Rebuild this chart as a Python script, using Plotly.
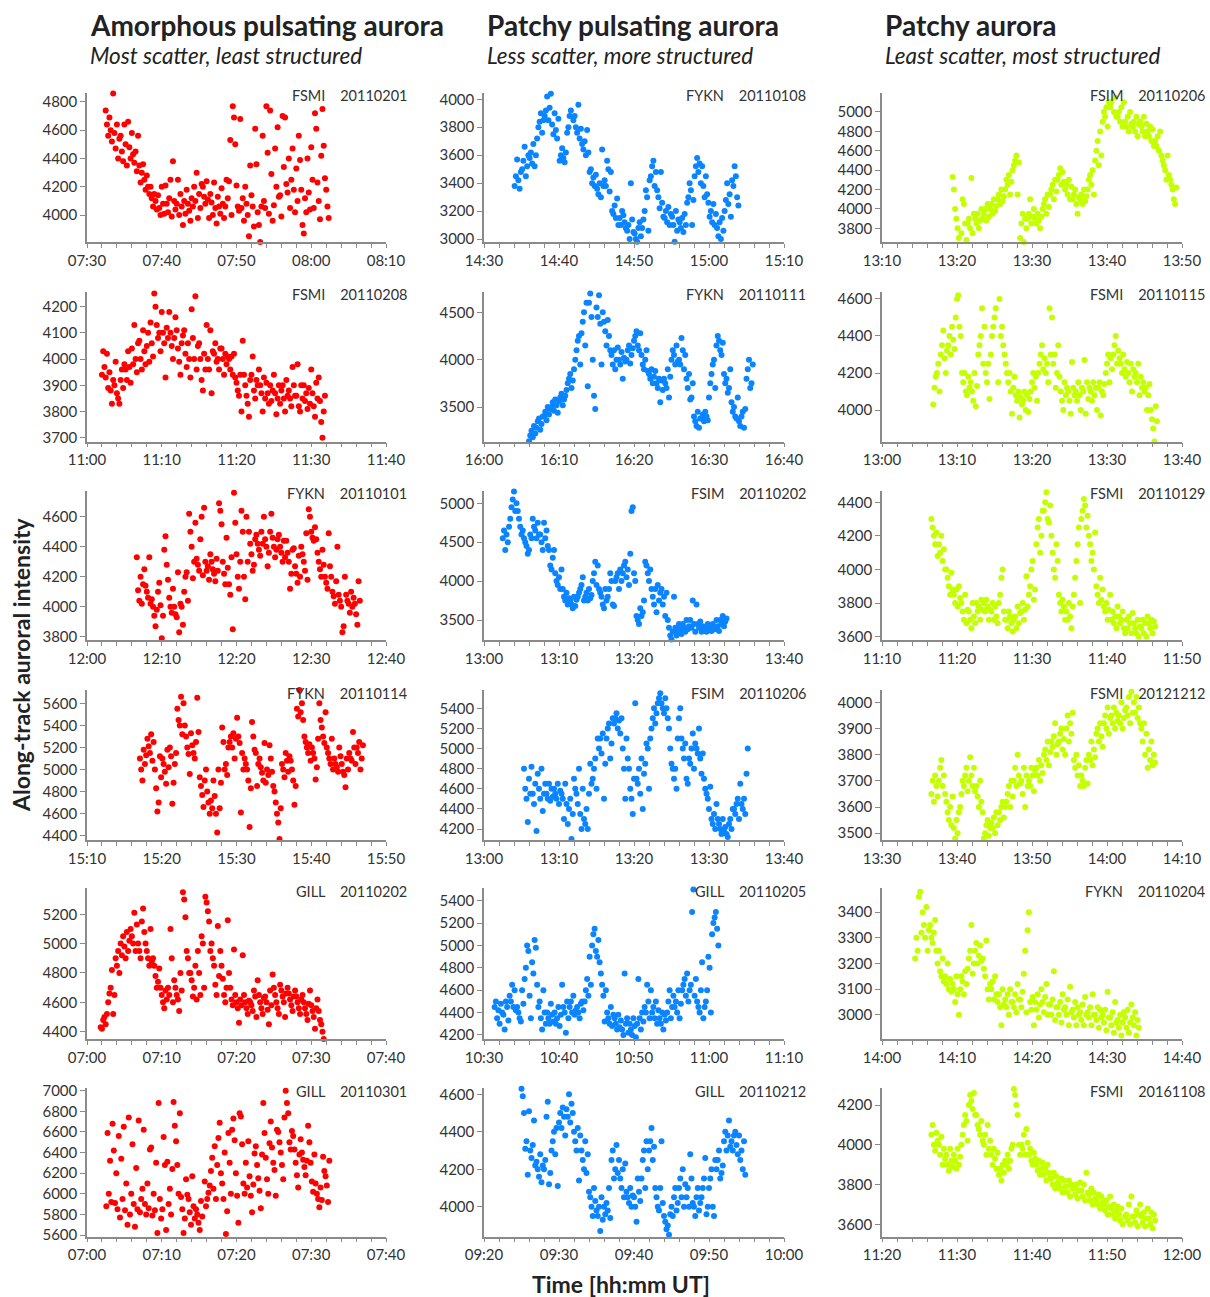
import plotly.graph_objects as go

# ---------------------------------------------------------------------------
# Along-track auroral intensity samples, 10 s cadence (6 samples per minute).
# Each row below is one minute of samples.
# ---------------------------------------------------------------------------

# Column 1: amorphous pulsating aurora
FSMI_20110201 = [
    4740, 4640, 4560, 4690, 4600, 4520,
    4860, 4580, 4470, 4640, 4400, 4540,
    4560, 4450, 4380, 4640, 4500, 4350,
    4660, 4480, 4400, 4580, 4430, 4370,
    4450, 4310, 4560, 4350, 4230, 4300,
    4360, 4250, 4180, 4280, 4200, 4150,
    4200, 4120, 4060, 4150, 4100, 4040,
    4140, 4050, 4000, 4200, 4080, 4010,
    4210, 4080, 4020, 4120, 4250, 3990,
    4380, 4100, 4040, 4080, 4250, 4000,
    4150, 4060, 3930, 4100, 4010, 4180,
    4080, 4030, 3960, 4120, 4060, 4200,
    4100, 4300, 3980, 4150, 4050, 4220,
    4200, 4130, 4080, 4240, 4110, 3980,
    4150, 4090, 4000, 4230, 4050, 3940,
    4130, 4060, 4010, 4190, 4080, 3980,
    4060, 4250, 4120, 4240, 4530, 4000,
    4770, 4690, 4500, 4210, 4060, 4030,
    4680, 4050, 4120, 3960, 4200, 4080,
    4000, 3850, 4350, 4140, 4060, 3920,
    4610, 4360, 4020, 3930, 3810, 4060,
    4560, 4100, 4050, 4770, 4440, 4010,
    4740, 4290, 3960, 4070, 4470, 4200,
    4620, 4130, 4140, 3990, 4700, 4340,
    4690, 4220, 4160, 4400, 4050, 4250,
    4470, 4180, 4020, 4330, 4100, 4560,
    4390, 4180, 3930, 3870, 4120, 4020,
    4400, 4160, 4040, 4480, 4250, 4050,
    4720, 4610, 4230, 4100, 3970, 4420,
    4750, 4490, 4260, 4180, 4060, 3980,
]

FSMI_20110208 = [
    3940, 4030, 3970, 3930, 4020, 3890,
    3950, 3880, 3830, 3920, 3900, 3990,
    3870, 3850, 3830, 3920, 3960, 3890,
    3980, 3960, 3920, 4030, 3970, 3910,
    4040, 3980, 4130, 4000, 3950, 4060,
    4070, 4000, 3960, 4110, 4030, 3980,
    4050, 4100, 3990, 4140, 4060, 4010,
    4250, 4200, 4130, 4080, 4100, 4030,
    4180, 4100, 4060, 3930, 4120, 4080,
    4180, 4100, 4050, 4000, 4080, 4160,
    4110, 4040, 3990, 3940, 4060, 4090,
    4110, 4020, 3970, 4060, 4000, 3930,
    4190, 4080, 4000, 4240, 3960, 4050,
    4060, 4000, 3920, 3880, 4020, 3960,
    4130, 4000, 3960, 4110, 3870, 4030,
    4020, 4060, 3990, 4000, 3960, 4040,
    4040, 4000, 3940, 4020, 3980, 4010,
    4000, 3960, 4010, 3940, 4020, 3930,
    3910, 3880, 3860, 3940, 3800, 4070,
    3940, 3900, 3860, 3830, 3780, 3920,
    3940, 4010, 3880, 3850, 3920, 3900,
    3960, 3900, 3870, 3800, 3930, 3850,
    3910, 3870, 3830, 3900, 3840, 3880,
    3940, 3870, 3790, 3850, 3900, 3830,
    3880, 3900, 3850, 3800, 3920, 3860,
    3880, 3850, 3820, 3970, 3900, 3860,
    3860, 3980, 3820, 3800, 3900, 3850,
    3900, 3840, 3870, 3810, 3890, 3830,
    3960, 3870, 3820, 3780, 3910, 3850,
    3930, 3840, 3760, 3700, 3800, 3860,
]

FYKN_20110101 = [
    4330, 4110, 4040, 4200, 4020, 4150,
    4250, 4140, 4100, 4060, 4330, 4020,
    4050, 4000, 3940, 3870, 3980, 4100,
    4160, 4010, 3790, 3940, 4380, 4470,
    4280, 4180, 4060, 4000, 3960, 4120,
    4000, 3950, 3930, 4230, 3830, 4020,
    4000, 3880, 4100, 4200, 4230, 4040,
    4620, 4500, 4400, 4190, 4300, 4560,
    4320, 4280, 4240, 4450, 4600, 4210,
    4660, 4300, 4240, 4270, 4180, 4350,
    4300, 4250, 4220, 4170, 4320, 4240,
    4690, 4640, 4550, 4300, 4220, 4150,
    4460, 4260, 4150, 4080, 4330, 3850,
    4760, 4560, 4350, 4200, 4120, 4300,
    4640, 4500, 4200, 4050, 4600, 4300,
    4500, 4420, 4350, 4240, 4280, 4450,
    4480, 4420, 4380, 4340, 4500, 4420,
    4600, 4450, 4400, 4270, 4360, 4500,
    4620, 4460, 4400, 4330, 4380, 4450,
    4480, 4400, 4360, 4300, 4440, 4330,
    4440, 4360, 4300, 4120, 4220, 4380,
    4390, 4270, 4220, 4160, 4340, 4200,
    4400, 4350, 4300, 4240, 4490, 4180,
    4650, 4600, 4500, 4460, 4440, 4530,
    4450, 4360, 4300, 4250, 4200, 4380,
    4280, 4200, 4160, 4120, 4490, 4270,
    4200, 4100, 4070, 4020, 4170, 4400,
    4080, 4040, 4000, 3830, 3870, 4200,
    4080, 4040, 4020, 3960, 4100, 4000,
    4060, 4020, 3950, 3880, 4170, 4040,
]

FYKN_20110114 = [
    5100, 5000, 4900, 5180, 5050, 5130,
    5280, 5210, 5150, 5320, 5080, 5250,
    5000, 4830, 4620, 4700, 5120, 4930,
    5100, 5050, 4980, 4870, 5180, 5020,
    5200, 5120, 4690, 4880, 5050, 5150,
    5550, 5450, 5400, 5660, 5320, 5600,
    5400, 5300, 5200, 5140, 4960, 5330,
    5220, 5150, 5100, 5250, 5650, 5340,
    4930, 4850, 4770, 4660, 4900, 5000,
    4800, 4700, 4600, 4720, 4650, 4900,
    4760, 4600, 4430, 5000, 4650, 4880,
    5380, 5250, 5000, 5050, 4950, 5200,
    5250, 5300, 5200, 5330, 5100, 5280,
    5470, 5300, 5240, 4610, 5150, 5000,
    5100, 5050, 5000, 4900, 4480, 4830,
    5430, 5300, 5180, 5150, 4850, 5050,
    5100, 5020, 4970, 4900, 5240, 4880,
    5000, 4950, 5220, 5100, 4980, 4850,
    4800, 4700, 4600, 4520, 4370, 4650,
    5050, 5000, 4930, 5150, 5080, 4980,
    5120, 5080, 5000, 4900, 4680, 4850,
    5550, 5480, 5720, 5520, 5600, 5450,
    5300, 5250, 5200, 5150, 5230, 5080,
    5200, 5150, 5100, 4910, 5020, 5280,
    5600, 5450, 5380, 5300, 5240, 5520,
    5200, 5150, 5100, 5050, 5280, 5000,
    5100, 5050, 5020, 4980, 5200, 5120,
    5050, 4980, 4950, 4840, 5100, 5000,
    5150, 5100, 5080, 5340, 5200, 5050,
    5200, 5150, 5250, 5000, 5100, 5220,
]

GILL_20110202 = [
    4430, 4420, 4480, 4500, 4450, 4520,
    4600, 4660, 4700, 4820, 4520, 4650,
    4900, 4850, 4950, 4800, 5000, 4920,
    5050, 4980, 4900, 5080, 4950, 5020,
    5100, 5050, 5000, 5210, 4950, 5130,
    5000, 4950, 4900, 5150, 5240, 5080,
    5000, 4950, 4900, 4850, 5100, 4880,
    4900, 4850, 4780, 4700, 4740, 4830,
    4700, 4650, 4600, 4560, 4680, 4620,
    4700, 4650, 5100, 4900, 4600, 4750,
    4700, 4650, 4620, 4540, 4800, 4680,
    5350, 5300, 5180, 4950, 4900, 4800,
    4800, 4750, 4640, 4700, 4850, 4620,
    4950, 4800, 4650, 5050, 5000, 4700,
    5320, 5280, 5220, 5150, 4950, 5000,
    4900, 4850, 4720, 4650, 5120, 4780,
    4950, 4850, 4760, 4650, 4600, 4700,
    5160, 4800, 4700, 4620, 4580, 4960,
    4650, 4600, 4560, 4460, 4620, 4580,
    4920, 4650, 4600, 4560, 4520, 4610,
    4600, 4580, 4540, 4680, 4640, 4500,
    4750, 4650, 4600, 4560, 4520, 4630,
    4640, 4600, 4550, 4450, 4680, 4580,
    4790, 4700, 4650, 4600, 4560, 4520,
    4720, 4680, 4640, 4600, 4500, 4660,
    4700, 4660, 4620, 4580, 4540, 4640,
    4680, 4640, 4600, 4560, 4520, 4620,
    4650, 4600, 4560, 4520, 4480, 4590,
    4680, 4580, 4540, 4500, 4420, 4560,
    4620, 4540, 4480, 4450, 4400, 4350,
]

GILL_20110301 = [
    5880, 6590, 6000, 6320, 5920, 6680,
    6420, 5910, 6200, 5850, 6560, 5770,
    6340, 5950, 6650, 5840, 6100, 5700,
    6740, 5800, 6000, 6480, 5900, 5680,
    6250, 5850, 6710, 5820, 5950, 6050,
    6620, 5900, 5800, 6100, 5860, 6430,
    6450, 5790, 6000, 5840, 6300, 5620,
    6880, 5950, 5760, 5850, 6550, 6280,
    5650, 6310, 5900, 6050, 5800, 6240,
    6890, 6660, 6510, 6280, 6000, 6780,
    5970, 5850, 5620, 5760, 6140, 5990,
    5950, 5820, 5700, 6170, 5880, 5760,
    5850, 5800, 5720, 5650, 5930, 5780,
    5580, 6120, 5880, 5950, 6010, 6080,
    6220, 6350, 6050, 6460, 5950, 6280,
    6540, 6690, 6200, 6100, 5950, 6400,
    5610, 5830, 6590, 6300, 6000, 6620,
    6730, 6520, 6200, 5980, 5720, 6780,
    6750, 6480, 6100, 6000, 6300, 6060,
    6510, 6170, 5980, 5820, 6090, 6390,
    6460, 6280, 6150, 6030, 5860, 6380,
    6880, 6590, 6350, 6140, 6000, 6490,
    6700, 6450, 6300, 6230, 5980, 6620,
    6600, 6500, 6400, 6280, 6140, 6740,
    7000, 6880, 6780, 6500, 6430, 6610,
    6560, 6430, 6300, 6180, 6060, 6380,
    6530, 6400, 6330, 6260, 6180, 6320,
    6660, 6500, 6300, 6120, 6020, 6380,
    6100, 6000, 5950, 5870, 6060, 5940,
    6360, 6220, 6170, 6080, 5920, 6320,
]

# Column 2: patchy pulsating aurora
FYKN_20110108 = [
    3380, 3450, 3570, 3420, 3360, 3480,
    3500, 3560, 3660, 3450, 3520, 3600,
    3580, 3620, 3540, 3680, 3520, 3600,
    3720, 3800, 3840, 3900, 3760, 3850,
    3880, 3920, 4020, 3850, 3940, 4040,
    3820, 3750, 3900, 3780, 3720, 3860,
    3560, 3600, 3650, 3580, 3550, 3620,
    3760, 3800, 3880, 3920, 4050, 3850,
    3880, 3800, 3760, 3960, 3720, 3790,
    3680, 3640, 3700, 3600, 3780, 3620,
    3480, 3500, 3400, 3440, 3380, 3460,
    3360, 3320, 3400, 3300, 3640, 3380,
    3420, 3380, 3560, 3500, 3340, 3480,
    3200, 3180, 3240, 3150, 3290, 3100,
    3150, 3100, 3200, 3170, 3120, 3080,
    3060, 3100, 3000, 3400, 3140, 3050,
    3040, 3000, 2980, 3080, 3120, 3020,
    3080, 3140, 3200, 3350, 3300, 3060,
    3420, 3450, 3520, 3560, 3380, 3480,
    3350, 3300, 3220, 3480, 3260, 3160,
    3150, 3200, 3120, 3230, 3100, 3180,
    3160, 3100, 2980, 3200, 3060, 3140,
    3120, 3080, 3150, 3050, 3180, 3100,
    3260, 3300, 3400, 3350, 3100, 3280,
    3450, 3520, 3580, 3480, 3540, 3400,
    3520, 3380, 3300, 3450, 3320, 3260,
    3160, 3200, 3120, 3250, 3100, 3180,
    3080, 3020, 3120, 3000, 3150, 3060,
    3200, 3280, 3400, 3250, 3320, 3160,
    3420, 3380, 3520, 3450, 3300, 3240,
]

FYKN_20110111 = [
    3140, 3200, 3250, 3180, 3300, 3220,
    3280, 3350, 3380, 3260, 3320, 3400,
    3400, 3450, 3360, 3500, 3420, 3480,
    3500, 3550, 3460, 3580, 3520, 3440,
    3560, 3600, 3640, 3520, 3580, 3620,
    3680, 3750, 3800, 3850, 3700, 3780,
    3900, 4000, 4100, 4200, 4250, 3950,
    4280, 4400, 4500, 4150, 4600, 3720,
    4600, 4700, 4450, 4000, 3620, 3480,
    4550, 4450, 4680, 4380, 3950, 4500,
    4400, 4300, 4150, 4420, 4250, 4100,
    4050, 3950, 4100, 3900, 4000, 4130,
    4000, 3950, 4080, 3800, 4020, 3980,
    4000, 4100, 4150, 3960, 4050, 4120,
    4200, 4250, 4300, 4150, 4100, 4280,
    4050, 3950, 3900, 4000, 4100, 3880,
    3850, 3800, 3900, 3750, 3820, 3880,
    3750, 3700, 3800, 3550, 3780, 3680,
    3800, 3750, 3700, 3900, 3600, 3820,
    4000, 4100, 4050, 3950, 4150, 3980,
    4000, 3950, 4230, 4100, 3900, 4050,
    3800, 3700, 3850, 3580, 3600, 3750,
    3400, 3350, 3300, 3450, 3280, 3380,
    3380, 3420, 3350, 3450, 3400, 3360,
    3600, 3750, 3850, 3950, 4000, 3700,
    4150, 4250, 4200, 4100, 4050, 4180,
    3850, 3750, 3800, 3650, 3700, 3900,
    3550, 3450, 3500, 3400, 3380, 3600,
    3350, 3300, 3400, 3450, 3280, 3480,
    3800, 3900, 4000, 3700, 3750, 3950,
]

FSIM_20110202 = [
    4550, 4650, 4400, 4600, 4500, 4700,
    4800, 4950, 5050, 5150, 4900, 5000,
    4900, 4800, 4700, 4600, 4650, 4550,
    4500, 4450, 4350, 4400, 4600, 4550,
    4800, 4700, 4650, 4550, 4750, 4600,
    4600, 4500, 4400, 4750, 4550, 4650,
    4450, 4400, 4200, 4150, 4300, 4400,
    4100, 4000, 3950, 4050, 3900, 4150,
    3900, 3800, 3750, 3850, 3700, 3780,
    3750, 3700, 3650, 3800, 3680, 3760,
    3800, 3850, 3900, 3950, 4050, 3750,
    3800, 3850, 3750, 3900, 3780, 3820,
    4000, 4100, 4250, 3950, 4200, 3900,
    3850, 3800, 3700, 3650, 3900, 3750,
    3800, 3900, 4100, 4000, 3700, 3680,
    4000, 4050, 4100, 3900, 4150, 4000,
    4100, 4200, 4250, 4050, 4150, 3950,
    4350, 4900, 4950, 4100, 4000, 3550,
    3500, 3450, 3650, 3550, 3600, 3750,
    4250, 4200, 4100, 4000, 4150, 3900,
    3800, 3700, 3900, 3600, 3950, 3750,
    3850, 3900, 3700, 3800, 3550, 3850,
    3500, 3400, 3300, 3250, 3350, 3800,
    3400, 3300, 3350, 3450, 3380, 3320,
    3450, 3400, 3350, 3500, 3380, 3420,
    3500, 3400, 3750, 3450, 3350, 3700,
    3450, 3400, 3480, 3350, 3420, 3380,
    3400, 3350, 3450, 3380, 3420, 3360,
    3450, 3400, 3380, 3500, 3420, 3360,
    3500, 3450, 3550, 3420, 3480, 3520,
]

FSIM_20110206 = [
    4800, 4600, 4500, 4270, 4700, 4550,
    4820, 4550, 4450, 4650, 4180, 4750,
    4600, 4500, 4800, 4380, 4550, 4650,
    4550, 4500, 4650, 4480, 4600, 4520,
    4600, 4550, 4500, 4650, 4450, 4580,
    4550, 4500, 4300, 4650, 4450, 4250,
    4400, 4500, 4100, 4350, 4700, 4600,
    4550, 4450, 4800, 4350, 4200, 4600,
    4300, 4250, 4400, 4200, 4550, 4850,
    4650, 4700, 4800, 4900, 4600, 5100,
    5000, 5100, 4950, 5150, 4500, 4850,
    5100, 5200, 5250, 4900, 5050, 5300,
    5250, 5300, 5350, 5200, 5280, 5150,
    5300, 5000, 4800, 4500, 5100, 4900,
    4800, 4600, 4500, 4350, 4700, 5450,
    4700, 4650, 4800, 4550, 4900, 4400,
    4750, 4850, 5050, 5000, 4600, 5100,
    5200, 5300, 5400, 5250, 5350, 5450,
    5500, 5550, 5450, 5400, 5350, 5500,
    5400, 5300, 5200, 5000, 4850, 4800,
    4700, 4800, 4600, 5100, 5300, 5400,
    5100, 5000, 4900, 5050, 4700, 4650,
    4900, 4850, 5000, 5150, 4800, 5050,
    5000, 4950, 5200, 4900, 4750, 4950,
    4700, 4600, 4550, 4500, 4400, 4620,
    4300, 4250, 4350, 4200, 4450, 4300,
    4250, 4200, 4150, 4300, 4180, 4220,
    4150, 4120, 4250, 4300, 4200, 4400,
    4400, 4350, 4450, 4500, 4300, 4650,
    4450, 4400, 4500, 4350, 4750, 5000,
]

GILL_20110205 = [
    4450, 4500, 4350, 4420, 4300, 4480,
    4400, 4380, 4250, 4500, 4450, 4330,
    4550, 4500, 4650, 4450, 4600, 4420,
    4450, 4400, 4350, 4320, 4600, 4480,
    4700, 4800, 5000, 4950, 4550, 4350,
    4850, 4750, 5050, 4980, 4650, 4450,
    4500, 4350, 4250, 4600, 4400, 4300,
    4400, 4350, 4300, 4480, 4380, 4320,
    4400, 4300, 4350, 4450, 4280, 4380,
    4650, 4450, 4400, 4220, 4500, 4350,
    4450, 4500, 4400, 4550, 4380, 4420,
    4450, 4400, 4350, 4480, 4500, 4420,
    4500, 4600, 4700, 4550, 4900, 4650,
    5000, 5100, 5150, 4950, 4900, 5050,
    4850, 4750, 4650, 4550, 4320, 4600,
    4400, 4350, 4300, 4450, 4280, 4380,
    4350, 4300, 4250, 4380, 4270, 4330,
    4250, 4200, 4750, 4300, 4350, 4220,
    4300, 4250, 4200, 4350, 4280, 4180,
    4300, 4700, 4350, 4250, 4400, 4320,
    4450, 4400, 4650, 4500, 4350, 4600,
    4400, 4450, 4350, 4500, 4300, 4420,
    4350, 4300, 4400, 4250, 4380, 4330,
    4400, 4500, 4600, 4350, 4450, 4550,
    4450, 4500, 4400, 4600, 4350, 4480,
    4600, 4650, 4700, 4550, 4750, 4500,
    4600, 4650, 5300, 5500, 4550, 4700,
    4500, 4450, 4400, 4600, 4850, 4350,
    4450, 4500, 4600, 4900, 4800, 4400,
    5100, 5200, 5250, 5300, 5150, 5000,
]

GILL_20110212 = [
    4630, 4590, 4500, 4310, 4350, 4170,
    4510, 4300, 4260, 4330, 4460, 4220,
    4240, 4200, 4160, 4280, 4130, 4220,
    4200, 4250, 4480, 4560, 4120, 4180,
    4300, 4350, 4400, 4280, 4420, 4110,
    4450, 4500, 4420, 4530, 4480, 4380,
    4520, 4480, 4600, 4450, 4550, 4500,
    4400, 4350, 4300, 4420, 4140, 4380,
    4300, 4250, 4200, 4350, 4180, 4280,
    4080, 4050, 4000, 3950, 4100, 4030,
    3980, 3950, 4000, 3870, 4050, 3930,
    4000, 3960, 4020, 3980, 4100, 3940,
    4250, 4300, 4150, 4200, 4330, 4180,
    4250, 4150, 4100, 4200, 4050, 4230,
    4080, 4050, 4020, 4100, 4000, 4060,
    4050, 4000, 3920, 4150, 4080, 4030,
    4150, 4250, 4300, 4100, 4350, 4200,
    4300, 4350, 4420, 4250, 4320, 4100,
    4050, 4000, 3980, 4100, 4350, 4020,
    3950, 3920, 3880, 3900, 3850, 3960,
    4000, 3950, 4050, 4100, 3980, 4020,
    4100, 4150, 4050, 4200, 4000, 4120,
    4050, 4100, 4000, 4280, 4150, 4020,
    4000, 3950, 4050, 4100, 3980, 4020,
    4050, 4100, 4150, 4260, 3960, 4000,
    4100, 4150, 4200, 4000, 3950, 4250,
    4200, 4250, 4300, 4150, 4180, 4220,
    4350, 4400, 4300, 4380, 4460, 4320,
    4350, 4300, 4380, 4400, 4330, 4280,
    4380, 4250, 4300, 4200, 4350, 4170,
]

# Column 3: patchy aurora
FSIM_20110206_B = [
    4330, 4200, 4000, 3900, 3800, 3700,
    3650, 3750, 4100, 4050, 3850, 3680,
    3850, 3900, 3800, 4320, 3750, 3950,
    3900, 3850, 3950, 3800, 3880, 4000,
    3900, 3950, 4000, 3880, 4050, 3920,
    4000, 4050, 3950, 4100, 3980, 4030,
    4100, 4150, 4050, 4200, 4080, 4130,
    4200, 4300, 4250, 4350, 4150, 4280,
    4400, 4450, 4500, 4550, 4150, 4480,
    3700, 3850, 3950, 3660, 3900, 3800,
    3900, 3950, 4100, 3850, 3920, 4000,
    3900, 3850, 3950, 3880, 3800, 3920,
    4000, 4050, 4100, 3950, 4150, 4020,
    4150, 4200, 4250, 4100, 4300, 4180,
    4300, 4350, 4420, 4250, 4380, 4280,
    4200, 4250, 4150, 4300, 4100, 4230,
    4100, 4150, 4200, 4050, 3950, 4120,
    4100, 4150, 4050, 4200, 4080, 4130,
    4200, 4300, 4350, 4250, 4400, 4150,
    4500, 4600, 4700, 4450, 4800, 4550,
    4900, 5000, 4950, 5050, 4850, 5100,
    5050, 5100, 5200, 5000, 5150, 4950,
    4950, 5000, 4900, 5050, 4850, 5100,
    4900, 4850, 4950, 4800, 5000, 4880,
    4850, 4900, 4800, 4950, 4750, 4870,
    4900, 4850, 4800, 4950, 4750, 4880,
    4800, 4750, 4850, 4700, 4820, 4650,
    4700, 4650, 4750, 4600, 4800, 4550,
    4500, 4450, 4400, 4300, 4550, 4350,
    4300, 4250, 4200, 4100, 4050, 4220,
]

FSMI_20110115 = [
    4030, 4120, 4180, 4200, 4250, 4100,
    4300, 4350, 4430, 4280, 4200, 4320,
    4350, 4400, 4300, 4450, 4380, 4330,
    4500, 4600, 4620, 4450, 4400, 4200,
    4150, 4200, 4100, 4080, 4180, 4120,
    4150, 4100, 4050, 4200, 4020, 4130,
    4300, 4350, 4400, 4550, 4250, 4450,
    4200, 4150, 4250, 4060, 4300, 4400,
    4450, 4500, 4550, 4640, 4150, 4600,
    4400, 4450, 4350, 4300, 4250, 4200,
    4150, 4200, 4100, 3980, 4120, 4180,
    4080, 4050, 4100, 3960, 4070, 4030,
    4050, 4100, 4000, 4080, 3990, 4060,
    4100, 4150, 4200, 4120, 4180, 4050,
    4200, 4250, 4300, 4350, 4220, 4280,
    4200, 4250, 4150, 4550, 4300, 4500,
    4250, 4300, 4120, 4200, 4350, 4180,
    4100, 4050, 4000, 4150, 4080, 4120,
    4100, 4050, 3980, 4260, 4120, 4080,
    4100, 4050, 4150, 4080, 4000, 4120,
    4100, 4270, 3980, 4150, 4060, 4120,
    4100, 4050, 4150, 4080, 4120, 4000,
    4120, 4150, 3970, 4100, 4080, 4140,
    4200, 4250, 4300, 4150, 4280, 4220,
    4300, 4350, 4400, 4250, 4320, 4280,
    4250, 4200, 4300, 4220, 4180, 4260,
    4200, 4150, 4250, 4100, 4220, 4180,
    4200, 4150, 4250, 4080, 4180, 4120,
    4150, 4100, 4120, 4000, 4080, 4140,
    4000, 3950, 3900, 3830, 4020, 3940,
]

FSMI_20110129 = [
    4300, 4250, 4200, 4150, 4220, 4080,
    4150, 4100, 4200, 4050, 4120, 4000,
    4000, 3950, 3900, 3850, 3980, 3880,
    3850, 3800, 3880, 3780, 3900, 3830,
    3800, 3750, 3700, 3850, 3680, 3760,
    3750, 3700, 3650, 3800, 3720, 3680,
    3800, 3750, 3780, 3700, 3820, 3760,
    3800, 3750, 3820, 3780, 3700, 3760,
    3750, 3800, 3700, 3780, 3720, 3680,
    3800, 3850, 3950, 4000, 3750, 3700,
    3700, 3650, 3750, 3720, 3680, 3630,
    3700, 3720, 3650, 3780, 3680, 3740,
    3750, 3800, 3700, 3760, 3960, 3780,
    3850, 3900, 4000, 4050, 3820, 3880,
    4150, 4250, 4300, 4100, 4200, 4350,
    4350, 4400, 4460, 4300, 4280, 4380,
    4200, 4100, 4000, 3950, 4150, 4050,
    3850, 3800, 3750, 3820, 3780, 3700,
    3750, 3700, 3800, 3720, 3650, 3780,
    3850, 3950, 4050, 4150, 4250, 3800,
    4300, 4350, 4420, 4380, 4250, 4320,
    4200, 4150, 4050, 4100, 4000, 4220,
    3900, 3850, 3800, 3950, 3820, 3880,
    3780, 3750, 3800, 3700, 3760, 3850,
    3700, 3750, 3680, 3720, 3650, 3780,
    3720, 3680, 3700, 3750, 3650, 3620,
    3700, 3650, 3720, 3680, 3620, 3740,
    3680, 3650, 3620, 3700, 3600, 3660,
    3650, 3700, 3620, 3680, 3600, 3720,
    3680, 3650, 3700, 3620, 3690, 3660,
]

FSMI_20121212 = [
    3650, 3700, 3620, 3720, 3680, 3640,
    3700, 3750, 3780, 3680, 3720, 3650,
    3620, 3580, 3550, 3600, 3530, 3640,
    3520, 3480, 3550, 3500, 3580, 3600,
    3650, 3700, 3680, 3720, 3750, 3660,
    3700, 3790, 3720, 3680, 3750, 3660,
    3680, 3640, 3600, 3700, 3620, 3580,
    3480, 3500, 3530, 3550, 3490, 3520,
    3540, 3520, 3560, 3500, 3580, 3530,
    3580, 3550, 3600, 3620, 3560, 3600,
    3620, 3650, 3680, 3600, 3700, 3640,
    3700, 3750, 3680, 3800, 3720, 3690,
    3700, 3650, 3750, 3600, 3720, 3680,
    3700, 3680, 3750, 3720, 3660, 3740,
    3750, 3720, 3780, 3700, 3760, 3730,
    3800, 3820, 3780, 3850, 3760, 3810,
    3850, 3830, 3870, 3920, 3800, 3840,
    3850, 3880, 3900, 3820, 3860, 3800,
    3900, 3950, 3850, 3920, 3880, 3960,
    3780, 3750, 3800, 3720, 3760, 3680,
    3720, 3700, 3680, 3750, 3780, 3690,
    3800, 3780, 3850, 3760, 3820, 3790,
    3880, 3900, 3850, 3920, 3870, 3830,
    3920, 3950, 3900, 3980, 3880, 3940,
    3950, 3920, 3980, 3900, 3960, 3930,
    3950, 3920, 4000, 3900, 3940, 3970,
    3980, 3950, 4020, 3920, 4040, 3960,
    4000, 3960, 4020, 3940, 3980, 3920,
    3900, 3850, 3920, 3800, 3880, 3750,
    3820, 3780, 3850, 3760, 3800, 3770,
]

FYKN_20110204 = [
    3220, 3300, 3250, 3460, 3480, 3320,
    3400, 3350, 3300, 3420, 3250, 3330,
    3350, 3300, 3280, 3320, 3370, 3250,
    3200, 3250, 3170, 3150, 3220, 3130,
    3150, 3120, 3200, 3100, 3140, 3090,
    3120, 3100, 3050, 3150, 3080, 3000,
    3100, 3150, 3130, 3080, 3170, 3120,
    3180, 3220, 3250, 3350, 3160, 3200,
    3250, 3280, 3200, 3230, 3270, 3210,
    3220, 3180, 3150, 3290, 3100, 3060,
    3120, 3100, 3130, 3060, 3150, 3080,
    3050, 3080, 3030, 2960, 3100, 3040,
    3060, 3030, 3080, 3000, 3100, 3050,
    3050, 3030, 3080, 3010, 3120, 3060,
    3060, 3030, 3090, 3160, 3250, 3010,
    3330, 3400, 3050, 3020, 3070, 2960,
    3050, 3020, 3080, 2990, 3040, 3100,
    3050, 3010, 3070, 3120, 3000, 3040,
    3040, 3000, 3060, 3170, 2980, 3030,
    3030, 3000, 3050, 2970, 3080, 3020,
    3030, 3000, 3060, 2960, 3110, 3010,
    3020, 2990, 3050, 2960, 3030, 3000,
    3010, 2980, 3040, 2960, 3070, 3000,
    3010, 2990, 3030, 2960, 3080, 3000,
    3000, 2980, 3030, 2950, 3020, 2990,
    3000, 2970, 3020, 2940, 3090, 2990,
    2990, 2960, 3010, 2930, 3050, 2970,
    2980, 2950, 3000, 2920, 2970, 3010,
    2990, 2950, 3020, 2930, 2970, 3040,
    2990, 2960, 3010, 2920, 2980, 2950,
]

FSMI_20161108 = [
    4050, 4100, 4000, 3970, 4060, 4020,
    4000, 3950, 4040, 3900, 3980, 3930,
    3950, 3900, 3870, 3980, 3920, 3890,
    3950, 3920, 3880, 3980, 3900, 3940,
    4000, 4050, 4100, 4150, 4120, 4020,
    4200, 4250, 4220, 4180, 4260, 4150,
    4150, 4100, 4080, 4050, 4120, 4020,
    4000, 4050, 3950, 4100, 3980, 4020,
    3950, 3900, 3980, 3930, 3880, 3960,
    3850, 3880, 3820, 3900, 3860, 3920,
    3900, 3950, 3880, 3920, 3980, 4000,
    4280, 4250, 4200, 4150, 4000, 3950,
    4000, 3980, 4050, 3950, 4080, 4010,
    3950, 3980, 3920, 3900, 3960, 3930,
    3900, 3870, 3920, 3850, 3880, 3910,
    3850, 3880, 3820, 3900, 3860, 3830,
    3830, 3800, 3860, 3780, 3840, 3810,
    3800, 3780, 3830, 3760, 3820, 3790,
    3790, 3760, 3820, 3740, 3800, 3780,
    3780, 3750, 3800, 3730, 3770, 3810,
    3770, 3740, 3800, 3720, 3860, 3760,
    3750, 3720, 3780, 3700, 3760, 3730,
    3720, 3700, 3750, 3680, 3740, 3710,
    3700, 3670, 3720, 3650, 3690, 3740,
    3680, 3650, 3700, 3630, 3670, 3690,
    3650, 3620, 3680, 3600, 3530, 3640,
    3650, 3620, 3700, 3600, 3740, 3640,
    3640, 3610, 3670, 3590, 3650, 3700,
    3640, 3610, 3660, 3590, 3630, 3680,
    3630, 3600, 3660, 3580, 3650, 3620,
]

SAMPLE_SECONDS = 10

# Panel descriptions, column by column (top to bottom)
COL_TITLES = ["Amorphous pulsating aurora", "Patchy pulsating aurora", "Patchy aurora"]
COL_SUBTITLES = ["Most scatter, least structured", "Less scatter, more structured",
                 "Least scatter, most structured"]
COL_COLORS = ["#ff0000", "#0a84ff", "#c4ff00"]

STATIONS = [
    ["FSMI", "FSMI", "FYKN", "FYKN", "GILL", "GILL"],
    ["FYKN", "FYKN", "FSIM", "FSIM", "GILL", "GILL"],
    ["FSIM", "FSMI", "FSMI", "FSMI", "FYKN", "FSMI"],
]
DATES = [
    ["20110201", "20110208", "20110101", "20110114", "20110202", "20110301"],
    ["20110108", "20110111", "20110202", "20110206", "20110205", "20110212"],
    ["20110206", "20110115", "20110129", "20121212", "20110204", "20161108"],
]
SERIES = [
    [FSMI_20110201, FSMI_20110208, FYKN_20110101, FYKN_20110114, GILL_20110202, GILL_20110301],
    [FYKN_20110108, FYKN_20110111, FSIM_20110202, FSIM_20110206, GILL_20110205, GILL_20110212],
    [FSIM_20110206_B, FSMI_20110115, FSMI_20110129, FSMI_20121212, FYKN_20110204, FSMI_20161108],
]
FIRST_SAMPLE = [
    ["07:32:30", "11:02:00", "12:06:40", "15:17:05", "07:01:50", "07:02:35"],
    ["14:34:05", "16:06:00", "13:02:30", "13:05:20", "10:31:25", "09:25:00"],
    ["13:19:25", "13:06:50", "11:16:35", "13:36:35", "14:04:25", "11:26:35"],
]
AXIS_START = [
    ["07:30", "11:00", "12:00", "15:10", "07:00", "07:00"],
    ["14:30", "16:00", "13:00", "13:00", "10:30", "09:20"],
    ["13:10", "13:00", "11:10", "13:30", "14:00", "11:20"],
]
Y_RANGES = [
    [(3810, 4865), (3685, 4257), (3778, 4771), (4361, 5721), (4350, 5377), (5584, 7023)],
    [(2979, 4047), (3134, 4718), (3243, 5158), (4091, 5582), (4164, 5511), (3840, 4632)],
    [(3659, 5199), (3829, 4639), (3580, 4467), (3474, 4047), (2906, 3493), (3538, 4284)],
]
Y_TICKS = [
    [[4000, 4200, 4400, 4600, 4800], [3700, 3800, 3900, 4000, 4100, 4200],
     [3800, 4000, 4200, 4400, 4600], [4400, 4600, 4800, 5000, 5200, 5400, 5600],
     [4400, 4600, 4800, 5000, 5200], [5600, 5800, 6000, 6200, 6400, 6600, 6800, 7000]],
    [[3000, 3200, 3400, 3600, 3800, 4000], [3500, 4000, 4500],
     [3500, 4000, 4500, 5000], [4200, 4400, 4600, 4800, 5000, 5200, 5400],
     [4200, 4400, 4600, 4800, 5000, 5200, 5400], [4000, 4200, 4400, 4600]],
    [[3800, 4000, 4200, 4400, 4600, 4800, 5000], [4000, 4200, 4400, 4600],
     [3600, 3800, 4000, 4200, 4400], [3500, 3600, 3700, 3800, 3900, 4000],
     [3000, 3100, 3200, 3300, 3400], [3600, 3800, 4000, 4200]],
]

# Figure geometry (pixels)
W, H = 1210, 1297
COL_PX = [(87, 386), (484, 784), (882, 1182)]
ROW_PX = [(92.7, 242), (291.7, 441.7), (491, 640), (690, 840), (888.3, 1039), (1088.3, 1236.7)]
LABEL_RIGHT_PX = [409, 808, 1207]

AXIS_GREY = "#8a8a8a"
TEXT_GREY = "#333333"
TICK_FONT = dict(family="Lato, 'Open Sans', sans-serif", size=15, color=TEXT_GREY)
HEAD_FONT = "Lato, 'Open Sans', sans-serif"


def to_minutes(hms):
    parts = [float(p) for p in hms.split(":")]
    while len(parts) < 3:
        parts.append(0.0)
    return parts[0] * 60 + parts[1] + parts[2] / 60


def hhmm(minutes):
    m = int(round(minutes))
    return f"{(m // 60) % 24:02d}:{m % 60:02d}"


fig = go.Figure()
annotations = []
layout_axes = {}

k = 0
for c in range(3):
    x0, x1 = COL_PX[c]
    for r in range(6):
        k += 1
        sfx = "" if k == 1 else str(k)
        top, bottom = ROW_PX[r]
        values = SERIES[c][r]
        t0 = to_minutes(FIRST_SAMPLE[c][r])
        times = [t0 + i * SAMPLE_SECONDS / 60 for i in range(len(values))]
        start = to_minutes(AXIS_START[c][r])
        xticks = [start + 10 * j for j in range(5)]

        fig.add_trace(go.Scatter(
            x=times, y=values, mode="markers",
            marker=dict(color=COL_COLORS[c], size=6, line=dict(width=0)),
            xaxis="x" + sfx, yaxis="y" + sfx, showlegend=False, cliponaxis=False,
            hovertemplate="%{y}<extra></extra>",
        ))

        layout_axes["xaxis" + sfx] = dict(
            domain=[x0 / W, x1 / W], anchor="y" + sfx,
            range=[start, start + 40], tickvals=xticks, ticktext=[hhmm(v) for v in xticks],
            ticks="outside", ticklen=4, tickwidth=1.2, tickcolor=AXIS_GREY,
            minor=dict(tick0=start, dtick=2, ticks="outside", ticklen=4,
                       tickwidth=1.2, tickcolor=AXIS_GREY, showgrid=False),
            showline=True, linecolor=AXIS_GREY, linewidth=1.5,
            showgrid=False, zeroline=False, tickfont=TICK_FONT, fixedrange=True,
        )
        layout_axes["yaxis" + sfx] = dict(
            domain=[1 - bottom / H, 1 - top / H], anchor="x" + sfx,
            range=list(Y_RANGES[c][r]), tickvals=Y_TICKS[c][r],
            ticktext=[str(v) for v in Y_TICKS[c][r]],
            ticks="outside", ticklen=5, tickwidth=1.2, tickcolor=AXIS_GREY,
            showline=True, linecolor=AXIS_GREY, linewidth=1.5,
            showgrid=False, zeroline=False, tickfont=TICK_FONT, fixedrange=True,
        )

        annotations.append(dict(
            x=LABEL_RIGHT_PX[c] / W, y=1 - (top + 3) / H, xref="paper", yref="paper",
            xanchor="right", yanchor="middle", showarrow=False,
            text=f"{STATIONS[c][r]}&nbsp;&nbsp;&nbsp;&nbsp;{DATES[c][r]}",
            font=dict(family=TICK_FONT["family"], size=14.5, color=TEXT_GREY),
        ))

    # column heading
    annotations.append(dict(
        x=(x0 + 1) / W, y=1 - 25 / H, xref="paper", yref="paper",
        xanchor="left", yanchor="middle", showarrow=False,
        text=f"<b>{COL_TITLES[c]}</b>",
        font=dict(family=HEAD_FONT, size=28, color="#222222"),
    ))
    annotations.append(dict(
        x=(x0 + 1) / W, y=1 - 56 / H, xref="paper", yref="paper",
        xanchor="left", yanchor="middle", showarrow=False,
        text=f"<i>{COL_SUBTITLES[c]}</i>",
        font=dict(family=HEAD_FONT, size=22.5, color="#222222"),
    ))

annotations.append(dict(
    x=21 / W, y=1 - 665 / H, xref="paper", yref="paper",
    xanchor="center", yanchor="middle", showarrow=False, textangle=-90,
    text="<b>Along-track auroral intensity</b>",
    font=dict(family=HEAD_FONT, size=23, color="#222222"),
))
annotations.append(dict(
    x=621 / W, y=1 - 1284 / H, xref="paper", yref="paper",
    xanchor="center", yanchor="middle", showarrow=False,
    text="<b>Time [hh:mm UT]</b>",
    font=dict(family=HEAD_FONT, size=23, color="#222222"),
))

fig.update_layout(
    width=W, height=H,
    margin=dict(l=0, r=0, t=0, b=0, autoexpand=False),
    paper_bgcolor="white", plot_bgcolor="white",
    annotations=annotations,
    **layout_axes,
)

fig.write_html("out.html")
